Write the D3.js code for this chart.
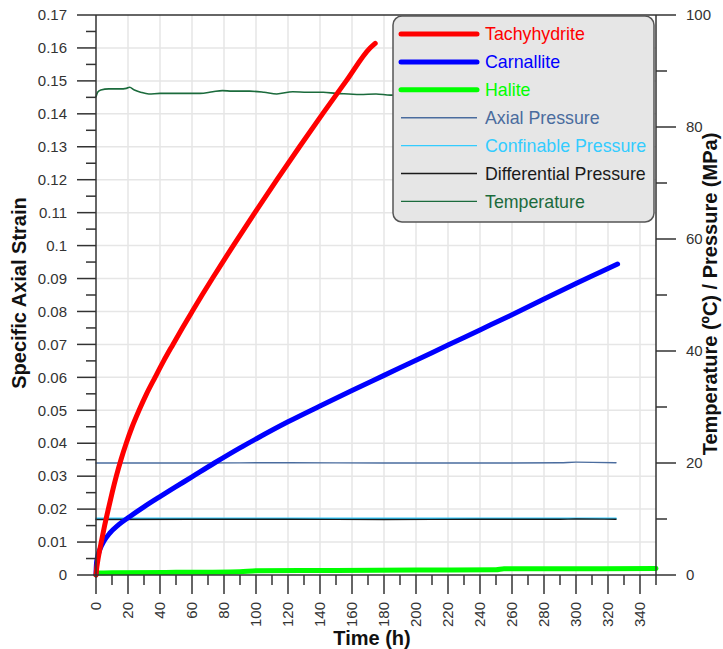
<!DOCTYPE html>
<html>
<head>
<meta charset="utf-8">
<script src="https://cdn.jsdelivr.net/npm/d3@7"></script>
<style>
  html, body { margin: 0; padding: 0; background: #fff; }
  svg { display: block; font-family: "Liberation Sans", Arial, sans-serif; }
</style>
</head>
<body>
<svg id="chart" width="723" height="649"></svg>
<script>
// Creep test: specific axial strain of three salts (left axis) and test conditions (right axis)
const tachyTime   = [0, 0.3, 1, 2, 3.3, 5.4, 7.7, 10.1, 12.7, 15.6, 18.9, 22.6, 26.9, 31.6, 36.9, 42.3, 48.1, 54.0, 60.1, 66.3, 72.7, 79.2, 85.8, 99.3, 113.1, 127.2, 141.6, 156.4, 171.3, 174.5];
const tachyStrain = [0, 0.0015, 0.004, 0.0068, 0.010, 0.015, 0.020, 0.025, 0.030, 0.035, 0.040, 0.045, 0.050, 0.055, 0.060, 0.065, 0.070, 0.075, 0.080, 0.085, 0.090, 0.095, 0.100, 0.110, 0.120, 0.130, 0.140, 0.150, 0.160, 0.1614];

const carnTime   = [0, 0.3, 1, 2.3, 5, 8.6, 14, 21, 30, 40, 50, 60, 74, 90, 100, 120, 140, 160, 180, 200, 220, 240, 260, 280, 300, 315, 326];
const carnStrain = [0, 0.0035, 0.0055, 0.0076, 0.0103, 0.0127, 0.0152, 0.0177, 0.0207, 0.0238, 0.0268, 0.0298, 0.034, 0.0386, 0.0413, 0.0465, 0.0513, 0.056, 0.0606, 0.0652, 0.0698, 0.0744, 0.079, 0.0838, 0.0885, 0.0919, 0.0944];

const haliteTime   = [0, 1, 10, 50, 90, 100, 150, 200, 250, 255, 300, 350];
const haliteStrain = [0, 0.0006, 0.0007, 0.0008, 0.0010, 0.0013, 0.0014, 0.0015, 0.0016, 0.0019, 0.0019, 0.0020];

const pressTime    = [0, 60, 120, 180, 240, 290, 300, 325];
const axialMPa     = [20.0, 20.0, 20.05, 20.0, 20.0, 20.05, 20.15, 20.05];
const confineMPa   = [10.1, 10.1, 10.1, 10.1, 10.1, 10.1, 10.1, 10.1];
const diffMPa      = [9.9, 9.95, 9.95, 9.9, 9.95, 9.95, 10.0, 9.95];

const tempTime = [0, 1, 3, 8, 15, 19, 21, 24, 28, 33, 40, 46, 55, 65, 73, 79, 85, 96, 105, 113, 123, 132, 142, 150, 158, 165, 175, 184, 200, 230, 260, 290, 325];
const tempC    = [85.4, 86.2, 86.6, 86.8, 86.8, 86.9, 87.1, 86.6, 86.2, 85.9, 86.0, 86.0, 86.0, 86.0, 86.3, 86.5, 86.4, 86.4, 86.2, 85.9, 86.3, 86.2, 86.2, 86.0, 85.9, 85.8, 85.9, 85.7, 85.7, 85.6, 85.7, 85.6, 85.6];

const seriesNames = ["Tachyhydrite", "Carnallite", "Halite", "Axial Pressure", "Confinable Pressure", "Differential Pressure", "Temperature"];
const seriesColors = ["#ff0000", "#0000ff", "#00ff00", "#4a6c9e", "#33ccff", "#1a1a1a", "#1b6b3c"];

const xTicks = d3.range(0, 341, 20);
const xMinor = d3.range(10, 351, 20);
const yTicks = d3.range(0, 18).map(i => i / 100);
const yMinor = d3.range(0, 17).map(i => i / 100 + 0.005);
const rTicks = [0, 20, 40, 60, 80, 100];
const rMinor = [10, 30, 50, 70, 90];

const svg = d3.select("#chart");
const L = 96, R = 656, T = 15, B = 575;
const x = d3.scaleLinear().domain([0, 350]).range([L, R]);
const y = d3.scaleLinear().domain([0, 0.17]).range([B, T]);
const yR = d3.scaleLinear().domain([0, 100]).range([B, T]);
const axisCol = "#333";
const labelFont = 15;

// grid
const grid = svg.append("g");
grid.selectAll(".gx").data(xTicks.filter(d => d > 0)).join("line")
  .attr("x1", d => x(d)).attr("x2", d => x(d)).attr("y1", T).attr("y2", B)
  .attr("stroke", "#e6e6e6").attr("stroke-width", 1.5);
grid.selectAll(".gy").data(yTicks.filter(d => d > 0 && d < 0.17)).join("line")
  .attr("x1", L).attr("x2", R).attr("y1", d => y(d)).attr("y2", d => y(d))
  .attr("stroke", "#e6e6e6").attr("stroke-width", 1.5);

// series
function drawLine(ts, vs, scale, color, width) {
  const pts = ts.map((t, i) => [t, vs[i]]);
  svg.append("path").datum(pts)
    .attr("fill", "none").attr("stroke", color).attr("stroke-width", width)
    .attr("stroke-linecap", "round").attr("stroke-linejoin", "round")
    .attr("d", d3.line().x(d => x(d[0])).y(d => scale(d[1])).curve(d3.curveMonotoneX));
}
drawLine(tempTime, tempC, yR, seriesColors[6], 1.6);
drawLine(pressTime, axialMPa, yR, seriesColors[3], 1.4);
drawLine(pressTime, confineMPa, yR, seriesColors[4], 1.8);
drawLine(pressTime, diffMPa, yR, seriesColors[5], 1.4);
drawLine(haliteTime, haliteStrain, y, seriesColors[2], 5);
drawLine(carnTime, carnStrain, y, seriesColors[1], 5);
drawLine(tachyTime, tachyStrain, y, seriesColors[0], 5);

// frame and axes
const ax = svg.append("g").attr("stroke", axisCol).attr("stroke-width", 1.5);
ax.append("line").attr("x1", L).attr("x2", L).attr("y1", T).attr("y2", B);
ax.append("line").attr("x1", R).attr("x2", R).attr("y1", T).attr("y2", B);
ax.append("line").attr("x1", L).attr("x2", R).attr("y1", T).attr("y2", T);
ax.append("line").attr("x1", L).attr("x2", R).attr("y1", B).attr("y2", B);
// left ticks
ax.selectAll(".ly").data(yTicks).join("line")
  .attr("x1", L - 19).attr("x2", L).attr("y1", d => y(d)).attr("y2", d => y(d));
ax.selectAll(".lym").data(yMinor).join("line")
  .attr("x1", L - 10).attr("x2", L).attr("y1", d => y(d)).attr("y2", d => y(d));
// right ticks
ax.selectAll(".ry").data(rTicks).join("line")
  .attr("x1", R).attr("x2", R + 20).attr("y1", d => yR(d)).attr("y2", d => yR(d));
ax.selectAll(".rym").data(rMinor).join("line")
  .attr("x1", R).attr("x2", R + 11).attr("y1", d => yR(d)).attr("y2", d => yR(d));
// bottom ticks
ax.selectAll(".bx").data(xTicks).join("line")
  .attr("x1", d => x(d)).attr("x2", d => x(d)).attr("y1", B).attr("y2", B + 19);
ax.selectAll(".bxm").data(xMinor).join("line")
  .attr("x1", d => x(d)).attr("x2", d => x(d)).attr("y1", B).attr("y2", B + 10);

// tick labels
const fmt = d => (+d.toFixed(2)).toString();
svg.append("g").selectAll("text").data(yTicks).join("text")
  .attr("x", 67).attr("y", d => y(d)).attr("dy", "0.35em")
  .attr("text-anchor", "end").attr("font-size", labelFont).attr("fill", axisCol)
  .text(fmt);
svg.append("g").selectAll("text").data(rTicks).join("text")
  .attr("x", 686).attr("y", d => yR(d)).attr("dy", "0.35em")
  .attr("text-anchor", "start").attr("font-size", labelFont).attr("fill", axisCol)
  .text(d => d);
svg.append("g").selectAll("text").data(xTicks).join("text")
  .attr("transform", d => `translate(${x(d)},602) rotate(-90)`)
  .attr("dy", "0.35em").attr("text-anchor", "end")
  .attr("font-size", labelFont).attr("fill", axisCol)
  .text(d => d);

// axis titles
svg.append("text").attr("transform", "translate(26,293) rotate(-90)")
  .attr("text-anchor", "middle").attr("font-size", 20).attr("font-weight", "bold")
  .attr("fill", "#111").text("Specific Axial Strain");
svg.append("text").attr("x", 372).attr("y", 645)
  .attr("text-anchor", "middle").attr("font-size", 20).attr("font-weight", "bold")
  .attr("fill", "#111").text("Time (h)");
svg.append("text").attr("transform", "translate(717,294) rotate(-90)")
  .attr("text-anchor", "middle").attr("font-size", 20).attr("font-weight", "bold")
  .attr("fill", "#111").text("Temperature (ºC) / Pressure (MPa)");

// legend
const lg = svg.append("g");
lg.append("rect").attr("x", 393).attr("y", 16).attr("width", 261).attr("height", 206)
  .attr("rx", 9).attr("fill", "#e6e6e6").attr("stroke", "#555").attr("stroke-width", 1.5);
const rowY = i => 34 + i * 27.9;
seriesNames.forEach((name, i) => {
  const thick = i < 3;
  lg.append("line").attr("x1", 401).attr("x2", 477).attr("y1", rowY(i)).attr("y2", rowY(i))
    .attr("stroke", seriesColors[i]).attr("stroke-width", thick ? 5 : 1.4)
    .attr("stroke-linecap", thick ? "round" : "butt");
  lg.append("text").attr("x", 485).attr("y", rowY(i)).attr("dy", "0.35em")
    .attr("font-size", 17.8).attr("fill", seriesColors[i]).text(name);
});
</script>
</body>
</html>
